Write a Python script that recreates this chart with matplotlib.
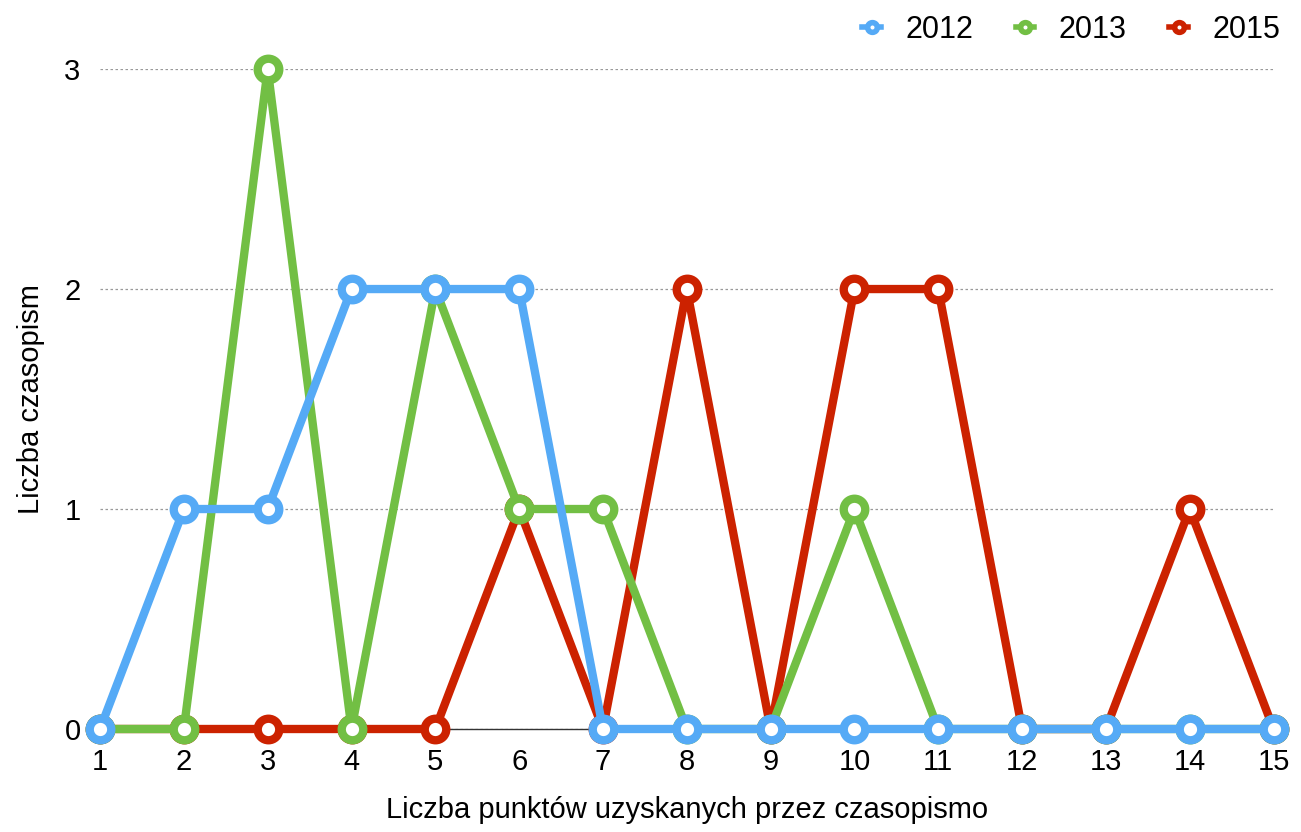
import numpy as np
import matplotlib.pyplot as plt

points = list(range(1, 16))
y2012 = [0, 1, 1, 2, 2, 2, 0, 0, 0, 0, 0, 0, 0, 0, 0]
y2013 = [0, 0, 3, 0, 2, 1, 1, 0, 0, 1, 0, 0, 0, 0, 0]
y2015 = [0, 0, 0, 0, 0, 1, 0, 2, 0, 2, 2, 0, 0, 1, 0]
labels = ["2012", "2013", "2015"]
colors = ["#55aaf6", "#72bf44", "#cc2200"]

plt.rcParams['font.family'] = ['Liberation Sans', 'DejaVu Sans']

fig = plt.figure(figsize=(13.01, 8.32), dpi=100)
ax = fig.add_axes([0.0769, 0.1238, 0.902, 0.7932])

# red first, blue ends up on top
series = [y2012, y2013, y2015]
for i in [2, 1, 0]:
    ax.plot(points, series[i], color=colors[i], lw=6, marker="o", ms=15.5,
            mfc="white", mec=colors[i], mew=6, clip_on=False,
            solid_joinstyle="round", zorder=3 + (2 - i), label=labels[i])

ax.set_xlim(1, 15)
ax.set_ylim(0, 3)
ax.set_xticks(points)
ax.set_yticks([0, 1, 2, 3])
ax.tick_params(length=0, labelsize=21, pad=14)
ax.tick_params(axis="x", pad=14)
ax.yaxis.grid(True, ls=(0, (2, 2)), color="#999999", lw=0.9)
ax.set_axisbelow(True)
for s in ["top", "right", "left"]:
    ax.spines[s].set_visible(False)
ax.spines["bottom"].set_color("#333333")
ax.spines["bottom"].set_linewidth(1)

ax.set_xlabel("Liczba punktów uzyskanych przez czasopismo", fontsize=21, labelpad=14)
ax.set_ylabel("Liczba czasopism", fontsize=21, labelpad=14)

leg_handles = []
for c in colors:
    h, = ax.plot([], [], color=c, lw=4, marker="o", ms=7, mfc="white", mec=c, mew=4)
    leg_handles.append(h)
fig.legend(leg_handles, labels, loc="upper right", bbox_to_anchor=(1.005, 1.015),
           ncol=3, frameon=False, fontsize=22, handlelength=0.6,
           handletextpad=0.8, columnspacing=1.4)

fig.savefig("out.png", dpi=100)
